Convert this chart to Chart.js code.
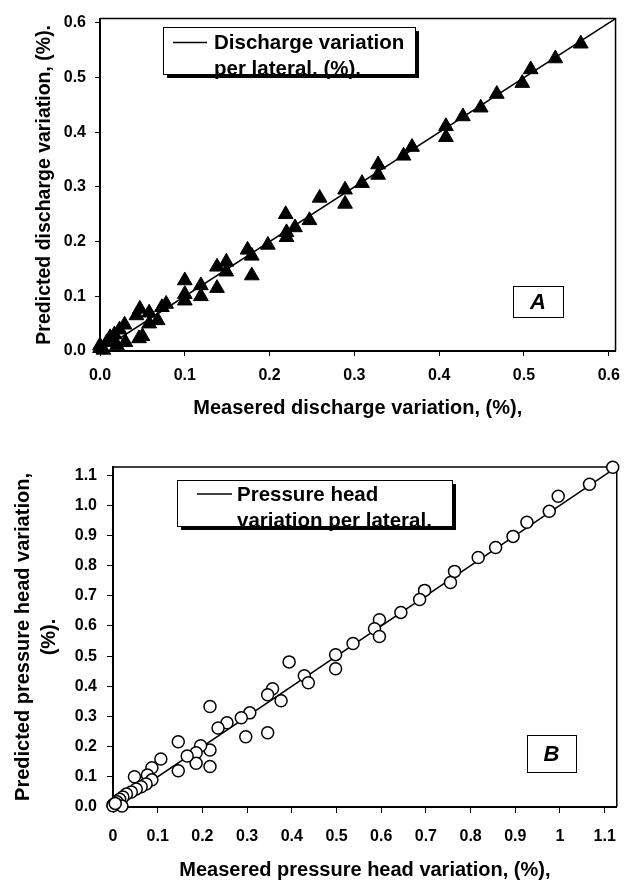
<!DOCTYPE html>
<html>
<head>
<meta charset="utf-8">
<script src="https://cdn.jsdelivr.net/npm/chart.js@4.4.1/dist/chart.umd.min.js"></script>
<style>
  html, body { margin: 0; padding: 0; background: #fff; }
  #wrapA { position: absolute; left: 0; top: 0; width: 630px; height: 420px; }
  #wrapB { position: absolute; left: 0; top: 420px; width: 630px; height: 464px; }
</style>
</head>
<body>
<div id="wrapA"><canvas id="chartA"></canvas></div>
<div id="wrapB"><canvas id="chartB"></canvas></div>
<script>
// ---------- DATA : chart A (discharge variation) ----------
const measuredDischarge = [0.567,0.537,0.508,0.498,0.468,0.449,0.428,0.408,0.408,0.368,0.358,0.328,0.328,0.309,0.289,0.289,0.259,0.247,0.219,0.230,0.220,0.220,0.198,0.174,0.179,0.179,0.149,0.138,0.149,0.138,0.119,0.119,0.100,0.100,0.100,0.078,0.073,0.068,0.058,0.058,0.047,0.043,0.050,0.046,0.029,0.023,0.017,0.030,0.012,0.008,0.000,0.000,0.020,0.004];
const predictedDischarge = [0.562,0.535,0.515,0.490,0.470,0.445,0.429,0.411,0.391,0.373,0.357,0.341,0.322,0.307,0.295,0.269,0.280,0.239,0.250,0.226,0.217,0.208,0.194,0.185,0.174,0.138,0.163,0.154,0.145,0.115,0.120,0.100,0.129,0.104,0.092,0.086,0.080,0.056,0.070,0.050,0.077,0.065,0.027,0.023,0.048,0.039,0.030,0.016,0.025,0.016,0.010,0.005,0.010,0.002];
const fitLineA = [0, 0.608];           // 1:1 line, start and end value
const xTickLabelsA = ['0.0','0.1','0.2','0.3','0.4','0.5','0.6'];
const yTickLabelsA = ['0.0','0.1','0.2','0.3','0.4','0.5','0.6'];
const xTitleA = 'Measered discharge variation, (%),';
const yTitleA = 'Predicted discharge variation, (%).';
const legendA = ['Discharge variation', 'per lateral, (%).'];
const panelA = 'A';

// ---------- DATA : chart B (pressure head variation) ----------
const measuredPressure = [1.118,1.066,0.996,0.976,0.926,0.895,0.856,0.817,0.764,0.755,0.697,0.686,0.644,0.596,0.585,0.596,0.537,0.498,0.498,0.428,0.437,0.394,0.357,0.346,0.376,0.346,0.306,0.287,0.297,0.255,0.235,0.217,0.217,0.217,0.196,0.186,0.186,0.166,0.146,0.146,0.107,0.087,0.077,0.087,0.048,0.074,0.063,0.052,0.041,0.030,0.022,0.015,0.009,0.000,0.020,0.000,0.005];
const predictedPressure = [1.126,1.070,1.030,0.980,0.944,0.897,0.860,0.827,0.781,0.744,0.718,0.688,0.645,0.621,0.591,0.565,0.542,0.505,0.458,0.435,0.412,0.481,0.392,0.372,0.352,0.246,0.312,0.296,0.233,0.279,0.262,0.333,0.189,0.134,0.203,0.180,0.145,0.169,0.216,0.120,0.159,0.130,0.106,0.090,0.100,0.076,0.067,0.060,0.050,0.043,0.033,0.026,0.017,0.007,0.003,0.004,0.012];
const fitLineB = [0, 1.127];
const xTickLabelsB = ['0','0.1','0.2','0.3','0.4','0.5','0.6','0.7','0.8','0.9','1','1.1'];
const yTickLabelsB = ['0.0','0.1','0.2','0.3','0.4','0.5','0.6','0.7','0.8','0.9','1.0','1.1'];
const xTitleB = 'Measered pressure head variation, (%),';
const yTitleB = ['Predicted pressure head variation,', '(%).'];
const legendB = ['Pressure head', 'variation per lateral,'];
const panelB = 'B';

// ---------- helpers ----------
const FAM = "'Liberation Sans', Arial, Helvetica, sans-serif";
const toPoints = (xs, ys) => xs.map((x, i) => ({x: x, y: ys[i]}));

const decor = {
  id: 'decor',
  beforeDatasetsDraw(chart, args, o) {
    const {ctx, chartArea: a} = chart;
    ctx.save();
    ctx.strokeStyle = '#000';
    ctx.lineWidth = 1.5;
    ctx.beginPath();
    ctx.moveTo(a.left, a.top);
    ctx.lineTo(a.right, a.top);
    ctx.lineTo(a.right, a.bottom);
    ctx.stroke();
    ctx.restore();
  },
  afterDatasetsDraw(chart, args, o) {
    const ctx = chart.ctx;
    const L = o.legend;
    ctx.save();
    // shadow
    ctx.fillStyle = '#000';
    ctx.fillRect(L.x + 4, L.y + 4, L.w, L.h);
    ctx.fillStyle = '#fff';
    ctx.fillRect(L.x, L.y, L.w, L.h);
    // sample line
    ctx.strokeStyle = '#000';
    ctx.lineWidth = 1.5;
    ctx.beginPath();
    ctx.moveTo(L.lx1, L.ly);
    ctx.lineTo(L.lx2, L.ly);
    ctx.stroke();
    // text
    ctx.fillStyle = '#000';
    ctx.font = 'bold ' + L.size + 'px ' + FAM;
    ctx.textBaseline = 'alphabetic';
    ctx.textAlign = 'left';
    ctx.fillText(L.text[0], L.tx, L.b1);
    ctx.fillText(L.text[1], L.tx, L.b2);
    // border
    ctx.lineWidth = 1;
    ctx.strokeRect(L.x + 0.5, L.y + 0.5, L.w, L.h);
    // panel letter box
    const P = o.panel;
    ctx.fillStyle = '#fff';
    ctx.fillRect(P.x, P.y, P.w, P.h);
    ctx.strokeStyle = '#000';
    ctx.lineWidth = 1;
    ctx.strokeRect(P.x + 0.5, P.y + 0.5, P.w, P.h);
    ctx.fillStyle = '#000';
    ctx.font = 'italic bold ' + P.size + 'px ' + FAM;
    ctx.textAlign = 'center';
    ctx.textBaseline = 'middle';
    ctx.fillText(P.text, P.x + P.w / 2, P.y + P.h / 2 + 1);
    ctx.restore();
  }
};

function makeScale(opts) {
  return {
    type: 'linear',
    min: 0,
    max: opts.max,
    afterFit: opts.fit,
    ticks: {
      stepSize: 0.1,
      includeBounds: false,
      autoSkip: false,
      maxRotation: 0,
      color: '#000',
      padding: opts.pad,
      font: {family: FAM, size: 16, weight: 'bold'},
      callback: (v) => opts.labels[Math.round(v * 10)]
    },
    grid: {display: true, drawOnChartArea: false, drawTicks: true, tickLength: opts.tick, color: '#000', lineWidth: 1},
    border: {display: true, color: '#000', width: 2},
    title: {display: true, text: opts.title, color: '#000',
            font: {family: FAM, size: opts.tsize, weight: 'bold', lineHeight: opts.tlh || 1.2},
            padding: opts.tpad}
  };
}

// ---------- chart A ----------
new Chart(document.getElementById('chartA'), {
  type: 'scatter',
  data: {
    datasets: [
      {
        data: toPoints(measuredDischarge, predictedDischarge),
        pointStyle: 'triangle',
        pointRadius: 8.5,
        backgroundColor: '#000',
        borderColor: '#000',
        borderWidth: 1,
        clip: false
      },
      {
        data: toPoints(fitLineA, fitLineA),
        showLine: true,
        pointRadius: 0,
        borderColor: '#000',
        borderWidth: 1.5
      }
    ]
  },
  options: {
    responsive: true,
    maintainAspectRatio: false,
    animation: false,
    devicePixelRatio: 1,
    layout: {padding: {top: 12, right: 6, bottom: 0, left: 0}},
    plugins: {
      legend: {display: false},
      tooltip: {enabled: false},
      decor: {
        legend: {x: 163, y: 27, w: 252, h: 47, lx1: 173, lx2: 207, ly: 42.5, tx: 214, b1: 49, b2: 75, size: 20.5, text: legendA},
        panel: {x: 513, y: 286, w: 50, h: 31, size: 22, text: panelA}
      }
    },
    scales: {
      x: makeScale({max: fitLineA[1], labels: xTickLabelsA, pad: 10, tick: 5, title: xTitleA, tsize: 20, tpad: {top: 0, bottom: 0},
                    fit: (s) => { s.height = 69; }}),
      y: makeScale({max: fitLineA[1], labels: yTickLabelsA, pad: 9, tick: 5, title: yTitleA, tsize: 19.5, tpad: {top: 33, bottom: 0},
                    fit: (s) => { s.width = 100; }})
    }
  },
  plugins: [decor]
});

// ---------- chart B ----------
new Chart(document.getElementById('chartB'), {
  type: 'scatter',
  data: {
    datasets: [
      {
        data: toPoints(measuredPressure, predictedPressure),
        pointStyle: 'circle',
        pointRadius: 6,
        backgroundColor: '#fff',
        borderColor: '#000',
        borderWidth: 1.5,
        clip: false
      },
      {
        data: toPoints(fitLineB, fitLineB),
        showLine: true,
        pointRadius: 0,
        borderColor: '#000',
        borderWidth: 1.5
      }
    ]
  },
  options: {
    responsive: true,
    maintainAspectRatio: false,
    animation: false,
    devicePixelRatio: 1,
    layout: {padding: {top: 47, right: 2, bottom: 0, left: 0}},
    plugins: {
      legend: {display: false},
      tooltip: {enabled: false},
      decor: {
        legend: {x: 177, y: 60, w: 275, h: 46, lx1: 197, lx2: 232, ly: 74, tx: 237, b1: 81, b2: 107, size: 20.5, text: legendB},
        panel: {x: 527, y: 315, w: 49, h: 37, size: 22, text: panelB}
      }
    },
    scales: {
      x: makeScale({max: fitLineB[1], labels: xTickLabelsB, pad: 14, tick: 6, title: xTitleB, tsize: 20, tpad: {top: 0, bottom: 2},
                    fit: (s) => { s.height = 77; }}),
      y: makeScale({max: fitLineB[1], labels: yTickLabelsB, pad: 10, tick: 6, title: yTitleB, tsize: 20, tlh: 1.3, tpad: {top: 10, bottom: 0},
                    fit: (s) => { s.width = 113; }})
    }
  },
  plugins: [decor]
});
</script>
</body>
</html>
